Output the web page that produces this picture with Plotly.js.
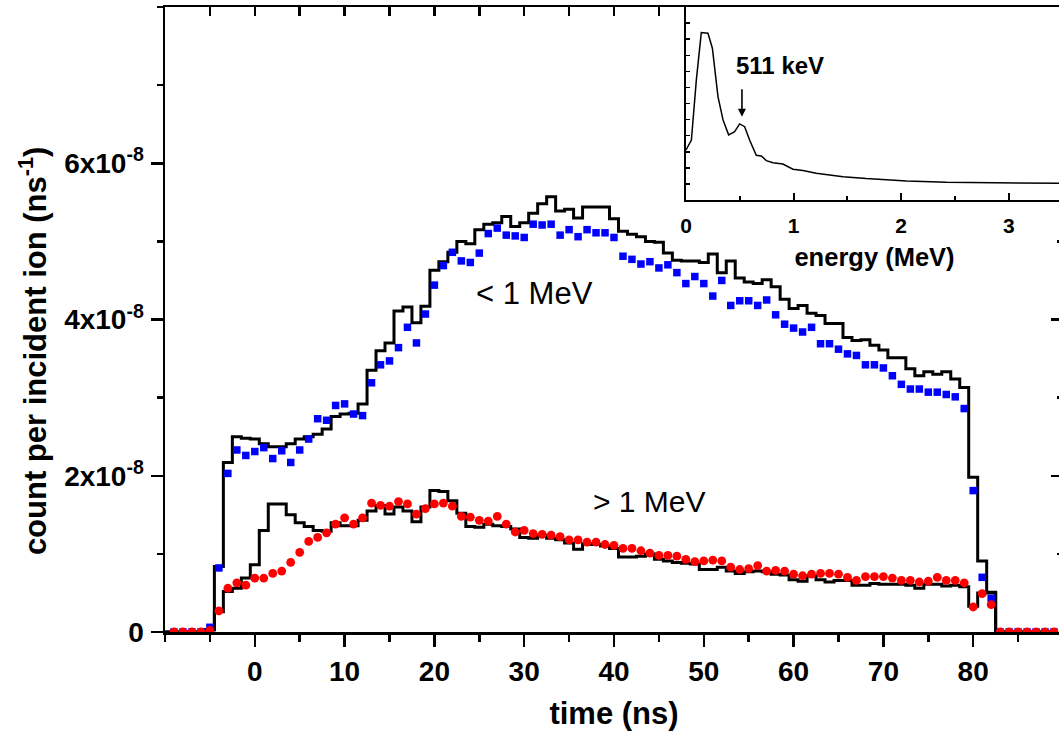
<!DOCTYPE html>
<html>
<head>
<meta charset="utf-8">
<script src="https://cdn.plot.ly/plotly-3.0.1.min.js"></script>
<style>
  html, body { margin: 0; padding: 0; overflow: hidden; background: #fff; }
  #chart { width: 1063px; height: 742px; }
</style>
</head>
<body>
<div id="chart"></div>
<script>
// Bin centres (ns)
const timeNs = [-10,-9,-8,-7,-6,-5,-4,-3,-2,-1,
  0,1,2,3,4,5,6,7,8,9,
  10,11,12,13,14,15,16,17,18,19,
  20,21,22,23,24,25,26,27,28,29,
  30,31,32,33,34,35,36,37,38,39,
  40,41,42,43,44,45,46,47,48,49,
  50,51,52,53,54,55,56,57,58,59,
  60,61,62,63,64,65,66,67,68,69,
  70,71,72,73,74,75,76,77,78,79,
  80,81,82,83,84,85,86,87,88,89];

// values in units of 1e-8 counts per incident ion per ns
const simBelow1MeV = [0,0,0,0,0,
  0.03,0.84,2.17,2.50,2.48,
  2.47,2.41,2.37,2.37,2.41,2.47,2.50,2.53,2.60,2.76,
  2.79,2.80,2.92,3.35,3.60,3.70,4.11,4.16,3.96,4.17,
  4.63,4.74,4.86,5.00,4.97,5.15,5.22,5.24,5.32,5.19,
  5.24,5.36,5.48,5.57,5.39,5.41,5.30,5.44,5.44,5.44,
  5.29,5.13,5.09,5.06,5.00,4.99,4.85,4.76,4.75,4.75,
  4.73,4.84,4.60,4.75,4.53,4.48,4.46,4.51,4.42,4.26,
  4.14,4.18,4.08,4.05,3.95,3.95,3.77,3.73,3.74,3.67,
  3.61,3.51,3.51,3.37,3.28,3.33,3.30,3.33,3.24,3.13,
  1.98,0.91,0.51,0,0,0,0,0,0,0];

const dataBelow1MeV = [null,0,0,0,0,
  0.06,0.82,2.03,2.33,2.26,
  2.31,2.36,2.22,2.32,2.17,2.33,2.47,2.73,2.71,2.90,
  2.92,2.79,2.77,3.19,3.42,3.47,3.64,3.90,3.70,4.07,
  4.44,4.69,4.86,4.75,4.73,4.85,5.10,5.17,5.08,5.07,
  5.05,5.22,5.21,5.22,5.08,5.15,5.06,5.15,5.11,5.11,
  5.05,4.81,4.77,4.71,4.74,4.66,4.70,4.60,4.46,4.55,
  4.46,4.30,4.50,4.18,4.24,4.24,4.18,4.25,4.06,3.94,
  3.89,3.84,3.90,3.69,3.69,3.62,3.56,3.54,3.42,3.42,
  3.38,3.28,3.17,3.11,3.11,3.07,3.07,3.04,3.01,2.86,
  1.81,0.70,0.43,0,0,0,0,0,0,0];

const simAbove1MeV = [0,0,0,0,0,
  0.03,0.26,0.52,0.56,0.69,
  0.86,1.30,1.64,1.64,1.50,1.40,1.35,1.30,1.29,1.40,
  1.36,1.36,1.43,1.55,1.62,1.51,1.60,1.55,1.41,1.60,
  1.81,1.80,1.68,1.52,1.35,1.34,1.38,1.36,1.35,1.32,
  1.21,1.20,1.24,1.20,1.18,1.14,1.06,1.13,1.12,1.10,
  1.07,0.96,0.96,0.97,1.00,0.93,0.91,0.89,0.88,0.87,
  0.80,0.80,0.83,0.78,0.75,0.77,0.78,0.77,0.74,0.73,
  0.67,0.65,0.72,0.67,0.64,0.66,0.66,0.60,0.60,0.62,
  0.61,0.61,0.61,0.60,0.56,0.61,0.61,0.59,0.60,0.58,
  0.33,0.50,0.50,0,0,0,0,0,0,0];

const dataAbove1MeV = [null,0,0,0,0,
  0.02,0.27,0.56,0.63,0.60,
  0.69,0.69,0.75,0.78,0.89,1.02,1.16,1.21,1.27,1.38,
  1.46,1.38,1.46,1.65,1.62,1.61,1.67,1.64,1.51,1.58,
  1.64,1.65,1.61,1.48,1.47,1.43,1.42,1.48,1.38,1.28,
  1.30,1.26,1.25,1.24,1.22,1.18,1.18,1.15,1.15,1.12,
  1.11,1.07,1.07,1.04,1.01,0.98,0.98,0.97,0.93,0.90,
  0.91,0.92,0.91,0.83,0.80,0.81,0.85,0.78,0.79,0.78,
  0.74,0.72,0.74,0.75,0.75,0.74,0.70,0.66,0.71,0.71,
  0.71,0.69,0.66,0.66,0.64,0.65,0.70,0.66,0.66,0.63,
  0.32,0.49,0.35,0,0,0,0,0,0,0];

// Inset: energy spectrum (arbitrary units)
const energyMeV = [0,0.05,0.096,0.142,0.204,0.245,0.297,0.344,0.396,0.452,0.498,0.545,0.591,0.653,0.70,0.746,0.808,0.90,0.994,1.087,1.21,1.46,1.675,2.05,2.42,2.85,3.50];
const spectrum = [3.11,3.73,7.47,10.41,10.37,9.44,6.43,4.98,4.05,4.25,4.73,4.56,3.73,2.78,2.74,2.45,2.32,2.24,1.91,1.83,1.66,1.45,1.33,1.18,1.10,1.06,1.04];

const yTickVals = [0,2,4,6];
const yTickText = ['0','2x10<sup>-8</sup>','4x10<sup>-8</sup>','6x10<sup>-8</sup>'];
const xTickVals = [0,10,20,30,40,50,60,70,80];
const insetTickVals = [0,1,2,3];

const FONT = 'Arial, "Liberation Sans", sans-serif';

const traces = [
  {x: timeNs, y: simBelow1MeV, mode:'lines', line:{shape:'hvh', color:'#000', width:3}, xaxis:'x', yaxis:'y', hoverinfo:'skip'},
  {x: timeNs, y: simAbove1MeV, mode:'lines', line:{shape:'hvh', color:'#000', width:3}, xaxis:'x', yaxis:'y', hoverinfo:'skip'},
  {x: timeNs, y: dataBelow1MeV, mode:'markers', marker:{symbol:'square', size:7.5, color:'#0000ff'}, xaxis:'x', yaxis:'y'},
  {x: timeNs, y: dataAbove1MeV, mode:'markers', marker:{symbol:'circle', size:8.8, color:'#ff0000'}, xaxis:'x', yaxis:'y'},
  {x: energyMeV, y: spectrum, mode:'lines', line:{color:'#000', width:1.5}, xaxis:'x2', yaxis:'y2', hoverinfo:'skip'},
  // empty traces so the mirror (frame) axes get their subplots
  {x: [], y: [], xaxis:'x3', yaxis:'y', hoverinfo:'skip'},
  {x: [], y: [], xaxis:'x', yaxis:'y3', hoverinfo:'skip'}
];

const axisCommon = {showgrid:false, zeroline:false, linecolor:'#000', tickcolor:'#000', showline:true};

const layout = {
  width: 1063, height: 742,
  margin: {l:165, r:0, t:7, b:110},
  paper_bgcolor:'#fff', plot_bgcolor:'#fff',
  showlegend:false,
  font:{family:FONT, color:'#000'},
  xaxis: Object.assign({}, axisCommon, {
    range:[-10,90], linewidth:2.5, ticks:'outside', tickmode:'array', tickvals:xTickVals,
    ticklen:12, tickwidth:2.5,
    minor:{tickmode:'linear', tick0:-5, dtick:5, ticks:'outside', ticklen:7, tickwidth:2.5, tickcolor:'#000'},
    tickfont:{family:FONT, size:28, weight:'bold'},
    ticklabelstandoff:1,
    title:{text:'time (ns)', font:{family:FONT, size:31, weight:'bold'}, standoff:16}
  }),
  yaxis: Object.assign({}, axisCommon, {
    range:[0,8], linewidth:2.5, ticks:'outside', tickmode:'array', tickvals:yTickVals, ticktext:yTickText,
    ticklen:12, tickwidth:2.5,
    minor:{tickmode:'linear', tick0:1, dtick:1, ticks:'outside', ticklen:6, tickwidth:2.5, tickcolor:'#000'},
    tickfont:{family:FONT, size:28, weight:'bold'},
    ticklabelstandoff:1
  }),
  xaxis3: Object.assign({}, axisCommon, {
    overlaying:'x', anchor:'y', side:'top', range:[-10,90], linewidth:2.5,
    ticks:'inside', tickmode:'linear', tick0:0, dtick:5, ticklen:9, tickwidth:2.5, showticklabels:false
  }),
  yaxis3: Object.assign({}, axisCommon, {
    overlaying:'y', anchor:'x', side:'right', range:[0,8], linewidth:2.5,
    ticks:'inside', tickmode:'array', tickvals:yTickVals, ticklen:12, tickwidth:2.5, showticklabels:false,
    minor:{tickmode:'linear', tick0:1, dtick:1, ticks:'inside', ticklen:6, tickwidth:2.5, tickcolor:'#000'}
  }),
  xaxis2: Object.assign({}, axisCommon, {
    domain:[0.5802,1], anchor:'y2', range:[0,3.504], linewidth:2,
    ticks:'inside', tickmode:'array', tickvals:insetTickVals, ticklen:7, tickwidth:2,
    minor:{tickmode:'linear', tick0:0.5, dtick:0.5, ticks:'inside', ticklen:4, tickwidth:2, tickcolor:'#000'},
    tickfont:{family:FONT, size:21, weight:'bold'},
    ticklabelstandoff:6,
    title:{text:'energy (MeV)', font:{family:FONT, size:25.5, weight:'bold'}, standoff:12}
  }),
  yaxis2: Object.assign({}, axisCommon, {
    domain:[0.6912,1], anchor:'x2', range:[0,12], linewidth:2,
    ticks:'inside', tickmode:'linear', tick0:0, dtick:1, ticklen:4, tickwidth:1.5, showticklabels:false
  }),
  annotations: [
    {xref:'paper', yref:'paper', x:-0.147, y:0.451, xanchor:'center', yanchor:'middle', textangle:-90,
     text:'count per incident ion (ns<sup>-1</sup>)', showarrow:false, font:{family:FONT, size:31, weight:'bold', color:'#000'}},
    {xref:'x', yref:'y', x:31.2, y:4.33, text:'&lt; 1 MeV', showarrow:false, font:{family:FONT, size:31, color:'#000'}},
    {xref:'x', yref:'y', x:44.0, y:1.67, text:'&gt; 1 MeV', showarrow:false, font:{family:FONT, size:30, color:'#000'}},
    {xref:'x2', yref:'y2', x:0.874, y:8.34, text:'511 keV', showarrow:false, font:{family:FONT, size:24, weight:'bold', color:'#000'}},
    {xref:'x2', yref:'y2', x:0.52, y:5.17, text:'', showarrow:true, ax:0, ay:-29, arrowhead:2, arrowsize:1, arrowwidth:1.6, arrowcolor:'#000', standoff:0}
  ]
};

Plotly.newPlot('chart', traces, layout, {staticPlot:true, displayModeBar:false});
</script>
</body>
</html>
